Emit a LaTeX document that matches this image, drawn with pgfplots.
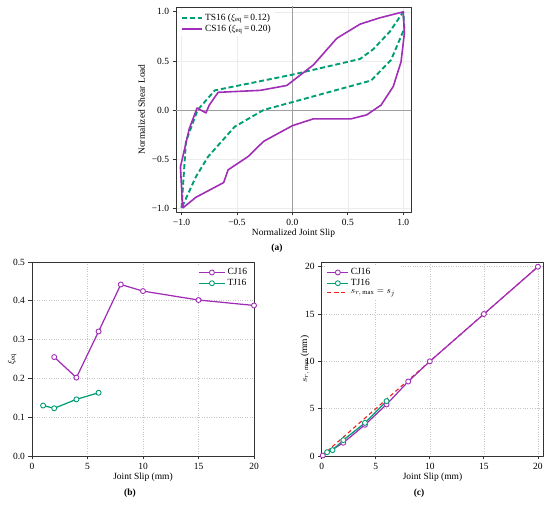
\documentclass[border=0pt]{standalone}
\usepackage{fontspec}
\setmainfont{Liberation Serif}
\usepackage{pgfplots}
\pgfplotsset{compat=1.18}
\definecolor{cgreen}{RGB}{0,158,115}
\definecolor{cpurple}{RGB}{160,45,182}
\definecolor{cred}{RGB}{238,30,30}
\newcommand\fs{\fontsize{9.5}{11}\selectfont}
\pgfplotsset{
  base/.style={
    scale only axis, tick align=outside, tick pos=left,
    major tick length=3.5bp,
    axis line style={black!80,line width=0.9pt},
    tick style={black!80,line width=0.8pt},
    tick label style={font=\fs},
    label style={font=\fs},
    legend style={font=\fs, draw=none, fill=white,
      inner sep=1.5pt, row sep=-1pt},
    legend cell align=left,
    /pgf/number format/assume math mode=true,
    line join=round,
  },
  mk/.style={mark=*, mark size=2.5bp, mark options={fill=white, solid, line width=0.9pt}},
}
\begin{document}
\begin{tikzpicture}[x=1bp,y=1bp]
\useasboundingbox (0,0) rectangle (550,505);

% ---------------- (a) ----------------
\begin{axis}[base, at={(176bp,293bp)}, anchor=south west,
  width=235bp, height=205bp,
  xmin=-1.05, xmax=1.07, ymin=-1.04, ymax=1.05,
  xtick={-1,-0.5,0,0.5,1}, xticklabels={−1.0,−0.5,0.0,0.5,1.0},
  ytick={-1,-0.5,0,0.5,1}, yticklabels={−1.0,−0.5,0.0,0.5,1.0},
  grid=major, major grid style={gray!15,line width=0.6pt},
  xlabel={Normalized Joint Slip}, ylabel={Normalized Shear Load},
  xlabel style={yshift=3bp},
  legend style={at={(0.015,0.985)}, anchor=north west},
  legend image code/.code={\draw[#1] plot coordinates {(0bp,0bp) (20bp,0bp)};},
]
\addplot[gray!75, line width=0.8pt, forget plot] coordinates {(0,-1.2) (0,1.2)};
\addplot[gray!75, line width=0.8pt, forget plot] coordinates {(-1.2,0) (1.2,0)};
\addplot[cgreen, line width=1.9pt, dash pattern=on 5bp off 2.8bp] coordinates {
(-1.0,-1.0) (-0.96,-0.32) (-0.855,0.0) (-0.70,0.20) (0.0,0.36) (0.61,0.52)
(0.73,0.62) (0.88,0.80) (1.0,1.0) (1.01,0.83) (0.89,0.51) (0.71,0.30)
(-0.26,0.0) (-0.52,-0.17) (-0.76,-0.475) (-0.87,-0.68) (-1.0,-1.0)};
\addlegendentry{TS16 ($\xi_{\mathrm{eq}}$\,=\,0.12)}
\addplot[cpurple, line width=1.6pt] coordinates {
(-0.99,-1.0) (-1.01,-0.58) (-0.93,-0.19) (-0.86,0.02) (-0.78,-0.03) (-0.75,0.05)
(-0.67,0.18) (-0.29,0.20) (-0.05,0.25) (0.19,0.46) (0.40,0.73) (0.61,0.875)
(0.79,0.94) (1.0,1.0) (1.01,0.78) (0.98,0.49) (0.91,0.24) (0.80,0.05)
(0.67,-0.05) (0.53,-0.09) (0.19,-0.09) (0.0,-0.16) (-0.26,-0.32) (-0.40,-0.475)
(-0.58,-0.61) (-0.62,-0.74) (-0.87,-0.89) (-0.99,-1.0)};
\addlegendentry{CS16 ($\xi_{\mathrm{eq}}$\,=\,0.20)}
\end{axis}

% ---------------- (b) ----------------
\begin{axis}[base, at={(32bp,49bp)}, anchor=south west,
  width=222bp, height=194bp,
  xmin=0, xmax=20, ymin=0, ymax=0.5,
  xtick={0,5,10,15,20}, ytick={0,0.1,0.2,0.3,0.4,0.5},
  yticklabel style={/pgf/number format/.cd, fixed, fixed zerofill, precision=1},
  grid=major, major grid style={gray!45, dotted, line width=0.6pt},
  xlabel={Joint Slip (mm)}, ylabel={$\xi_{\mathrm{eq}}$},
  xlabel style={yshift=3bp},
  ylabel style={at={(axis description cs:-0.09,0.5)}, anchor=center},
  legend style={at={(0.985,0.985)}, anchor=north east},
  legend image code/.code={\draw[mark repeat=2,mark phase=2,#1] plot coordinates {(0bp,0bp) (13bp,0bp) (26bp,0bp)};},
]
\addplot[cpurple, line width=1.25pt, mk] coordinates {
(2,0.255) (4,0.202) (6,0.321) (8,0.442) (10,0.425) (15,0.402) (20,0.388)};
\addlegendentry{CJ16}
\addplot[cgreen, line width=1.25pt, mk] coordinates {
(1,0.130) (2,0.123) (4,0.146) (6,0.163)};
\addlegendentry{TJ16}
\end{axis}

% ---------------- (c) ----------------
\begin{axis}[base, at={(321.7bp,49bp)}, anchor=south west,
  width=221.6bp, height=194bp,
  xmin=0, xmax=20.5, ymin=0, ymax=20.5,
  xtick={0,5,10,15,20}, ytick={0,5,10,15,20},
  grid=major, major grid style={gray!45, dotted, line width=0.6pt},
  xlabel={Joint Slip (mm)}, ylabel={$s_{r,\,\mathrm{max}}$ (mm)},
  xlabel style={yshift=3bp},
  ylabel style={at={(axis description cs:-0.075,0.5)}, anchor=center},
  legend style={at={(0.015,0.985)}, anchor=north west},
  legend image code/.code={\draw[mark repeat=2,mark phase=2,#1] plot coordinates {(0bp,0bp) (10.5bp,0bp) (21bp,0bp)};},
]
\addplot[cred, line width=1.1pt, dash pattern=on 4bp off 3bp, forget plot] coordinates {(0,0) (20,20)};
\addplot[cpurple, line width=1.25pt, mk] coordinates {
(0.1,0.05) (2,1.4) (4,3.3) (6,5.45) (8,7.87) (10,10.0) (15,15.0) (20,20.0)};
\addlegendentry{CJ16}
\addplot[cgreen, line width=1.25pt, mk] coordinates {
(0.5,0.4) (1,0.62) (2,1.68) (4,3.5) (6,5.8)};
\addlegendentry{TJ16}
\addlegendimage{color=cred, line width=1.2pt, dash pattern=on 4bp off 3bp}
\addlegendentry{$s_{r,\,\mathrm{max}}=s_j$}
\end{axis}

\node[font=\fs\bfseries] at (277bp,257bp) {(a)};
\node[font=\fs\bfseries] at (130bp,12bp) {(b)};
\node[font=\fs\bfseries] at (419bp,12bp) {(c)};
\end{tikzpicture}
\end{document}
